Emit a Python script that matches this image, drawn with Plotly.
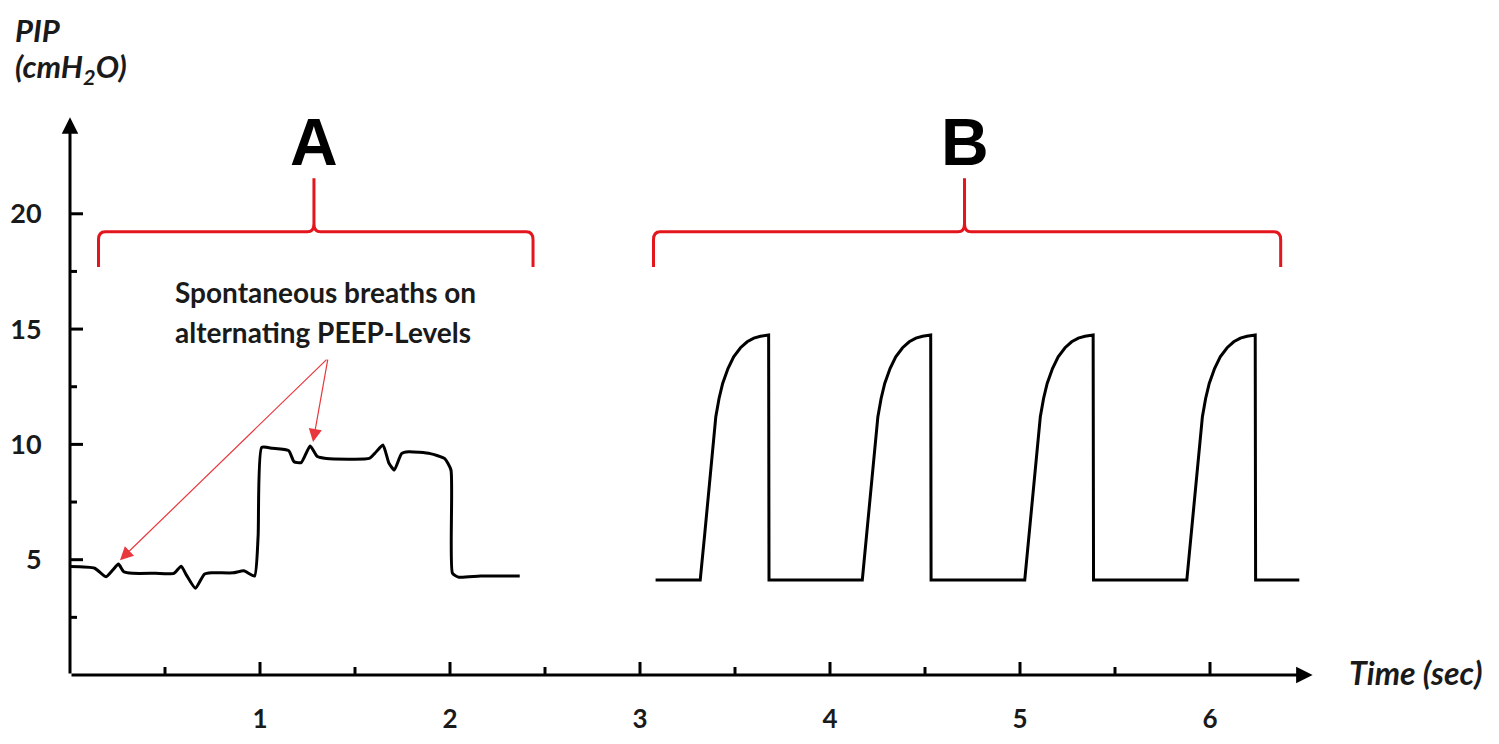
import plotly.graph_objects as go

# ---------------- data ----------------
# Phase A: spontaneous breathing on alternating PEEP levels
a_time = [0.00, 0.13, 0.19, 0.225, 0.255, 0.283, 0.33, 0.45, 0.547, 0.585, 0.613, 0.66, 0.707,
          0.745, 0.858, 0.915, 0.971, 0.99, 1.009, 1.066, 1.151, 1.179, 1.217, 1.264, 1.302,
          1.349, 1.575, 1.603, 1.647, 1.679, 1.707, 1.745, 1.783, 1.896, 1.971, 2.005, 2.013,
          2.047, 2.16, 2.367]
a_pip = [4.70, 4.63, 4.26, 4.55, 4.81, 4.48, 4.41, 4.41, 4.41, 4.72, 4.33, 3.76, 4.37,
         4.43, 4.43, 4.52, 4.29, 6.0, 9.87, 9.83, 9.73, 9.25, 9.21, 9.93, 9.47,
         9.39, 9.39, 9.60, 9.97, 9.18, 8.89, 9.60, 9.68, 9.60, 9.39, 8.89, 4.41,
         4.24, 4.29, 4.29]

# Phase B: mandatory (controlled) breaths, four cycles
b_time = [3.082,
          3.317, 3.341, 3.364, 3.381, 3.399, 3.416, 3.435, 3.463, 3.493, 3.529, 3.564, 3.599, 3.634, 3.677, 3.679,
          4.170, 4.194, 4.217, 4.234, 4.252, 4.269, 4.288, 4.316, 4.346, 4.382, 4.417, 4.452, 4.487, 4.530, 4.532,
          5.025, 5.049, 5.072, 5.089, 5.107, 5.124, 5.143, 5.171, 5.201, 5.237, 5.272, 5.307, 5.342, 5.385, 5.387,
          5.878, 5.902, 5.925, 5.942, 5.960, 5.977, 5.996, 6.024, 6.054, 6.090, 6.125, 6.160, 6.195, 6.238, 6.240,
          6.470]
b_pip = [4.12,
         4.12, 6.14, 8.16, 9.75, 11.20, 11.99, 12.64, 13.29, 13.80, 14.19, 14.45, 14.61, 14.69, 14.74, 4.12,
         4.12, 6.14, 8.16, 9.75, 11.20, 11.99, 12.64, 13.29, 13.80, 14.19, 14.45, 14.61, 14.69, 14.74, 4.12,
         4.12, 6.14, 8.16, 9.75, 11.20, 11.99, 12.64, 13.29, 13.80, 14.19, 14.45, 14.61, 14.69, 14.74, 4.12,
         4.12, 6.14, 8.16, 9.75, 11.20, 11.99, 12.64, 13.29, 13.80, 14.19, 14.45, 14.61, 14.69, 14.74, 4.12,
         4.12]

x_major = [1, 2, 3, 4, 5, 6]
x_minor = [0.5, 1.5, 2.5, 3.5, 4.5, 5.5]
x_labels = ["1", "2", "3", "4", "5", "6"]
y_major = [5, 10, 15, 20]
y_minor = [2.5, 7.5, 12.5, 17.5]
y_labels = ["5", "10", "15", "20"]

phase_labels = ["A", "B"]
phase_start = [0.15, 3.071]
phase_end = [2.437, 6.372]
phase_mid = [1.284, 4.708]

note_lines = ["Spontaneous breaths on", "alternating PEEP-Levels"]
note_targets_t = [1.279, 0.263]
note_targets_v = [10.1, 4.98]

# ---------------- figure ----------------
FONT = "Lato"
RED = "#e3151d"
TXT = "#1a1a1a"

fig = go.Figure()
fig.add_trace(go.Scatter(x=a_time, y=a_pip, mode="lines",
                         line=dict(color="black", width=3, shape="spline", smoothing=0.5),
                         hoverinfo="skip", showlegend=False))
fig.add_trace(go.Scatter(x=b_time, y=b_pip, mode="lines",
                         line=dict(color="black", width=3),
                         hoverinfo="skip", showlegend=False))

shapes = []
for t in x_major:
    shapes.append(dict(type="line", xref="x", yref="y", ysizemode="pixel", yanchor=0,
                       x0=t, x1=t, y0=-17, y1=13, line=dict(color="black", width=3)))
for t in x_minor:
    shapes.append(dict(type="line", xref="x", yref="y", ysizemode="pixel", yanchor=0,
                       x0=t, x1=t, y0=-8, y1=8, line=dict(color="black", width=3)))
for v in y_major:
    shapes.append(dict(type="line", xref="x", yref="y", xsizemode="pixel", xanchor=0,
                       x0=-13, x1=13, y0=v, y1=v, line=dict(color="black", width=3)))
for v in y_minor:
    shapes.append(dict(type="line", xref="x", yref="y", xsizemode="pixel", xanchor=0,
                       x0=-9, x1=7, y0=v, y1=v, line=dict(color="black", width=3)))

# braces
yl, yend, ytop = 19.22, 17.69, 21.54
rx, ry = 0.035, 0.35
for xl, xr, xc in zip(phase_start, phase_end, phase_mid):
    path = (f"M {xl},{yend} L {xl},{yl-ry} Q {xl},{yl} {xl+rx},{yl} "
            f"L {xc-rx},{yl} Q {xc},{yl} {xc},{yl+ry} L {xc},{ytop} "
            f"M {xc},{yl+ry} Q {xc},{yl} {xc+rx},{yl} "
            f"L {xr-rx},{yl} Q {xr},{yl} {xr},{yl-ry} L {xr},{yend}")
    shapes.append(dict(type="path", xref="x", yref="y", path=path,
                       line=dict(color=RED, width=3)))

annotations = []
# axis arrows
annotations.append(dict(x=6.54, y=0, ax=0, ay=0, xref="x", yref="y", axref="x", ayref="y",
                        text="", showarrow=True, arrowhead=2, arrowsize=1.1, arrowwidth=3,
                        arrowcolor="black", standoff=0, startstandoff=0))
annotations.append(dict(x=0, y=24.19, ax=0, ay=0, xref="x", yref="y", axref="x", ayref="y",
                        text="", showarrow=True, arrowhead=2, arrowsize=1.1, arrowwidth=3,
                        arrowcolor="black", standoff=0, startstandoff=0))
# phase letters
for lab, xc in zip(phase_labels, phase_mid):
    annotations.append(dict(x=xc, y=23.1, xref="x", yref="y", text=f"<b>{lab}</b>",
                            showarrow=False, xanchor="center", yanchor="middle",
                            font=dict(family="Liberation Sans", size=66, color="black")))
# note text
annotations.append(dict(x=0.542, y=(675 - 292) / 23.06, xref="x", yref="y", text=note_lines[0],
                        showarrow=False, xanchor="left", yanchor="middle",
                        font=dict(family=FONT, size=28, color=TXT, weight="bold")))
annotations.append(dict(x=0.542, y=(675 - 332) / 23.06, xref="x", yref="y", text=note_lines[1],
                        showarrow=False, xanchor="left", yanchor="middle",
                        font=dict(family=FONT, size=28, color=TXT, weight="bold")))
for tx, tv in zip(note_targets_t, note_targets_v):
    annotations.append(dict(x=tx, y=tv, ax=1.358, ay=13.74, xref="x", yref="y",
                            axref="x", ayref="y", text="", showarrow=True, arrowhead=2,
                            arrowsize=2.2, arrowwidth=1.2, arrowcolor="#e8383e",
                            standoff=0, startstandoff=0))
# axis titles (paper coordinates, plot area 1254 x 565 px)
annotations.append(dict(x=-57 / 1254, y=(675 - 9) / 565, xref="paper", yref="paper",
                        text="<b><i>PIP</i></b>", showarrow=False, xanchor="left",
                        yanchor="top", font=dict(family=FONT, size=31, color=TXT)))
annotations.append(dict(x=-57 / 1254, y=(675 - 69) / 565, xref="paper", yref="paper",
                        text="<b><i>(cmH<sub>2</sub>O)</i></b>", showarrow=False,
                        xanchor="left", yanchor="middle",
                        font=dict(family=FONT, size=31, color=TXT)))
annotations.append(dict(x=(1347 - 70) / 1254, y=3 / 565, xref="paper", yref="paper",
                        text="<b><i>Time (sec)</i></b>", showarrow=False, xanchor="left",
                        yanchor="middle", font=dict(family=FONT, size=32, color=TXT)))

fig.update_layout(
    width=1483, height=728,
    margin=dict(l=62, r=167, t=102, b=61, pad=0, autoexpand=False),
    paper_bgcolor="white", plot_bgcolor="white",
    shapes=shapes, annotations=annotations,
    xaxis=dict(range=[0, 6.6], showgrid=False, zeroline=False, showline=False,
               automargin=False,
               tickmode="array", tickvals=x_major, ticktext=x_labels,
               ticks="outside", ticklen=21, tickcolor="rgba(0,0,0,0)",
               tickfont=dict(family=FONT, size=26, color=TXT, weight="bold"),
               fixedrange=True),
    yaxis=dict(range=[0, 24.5], showgrid=False, zeroline=False, showline=False,
               automargin=False,
               tickmode="array", tickvals=y_major, ticktext=y_labels,
               ticks="outside", ticklen=22, tickcolor="rgba(0,0,0,0)",
               tickfont=dict(family=FONT, size=27, color=TXT, weight="bold"),
               fixedrange=True),
)

fig.write_html("out.html")
